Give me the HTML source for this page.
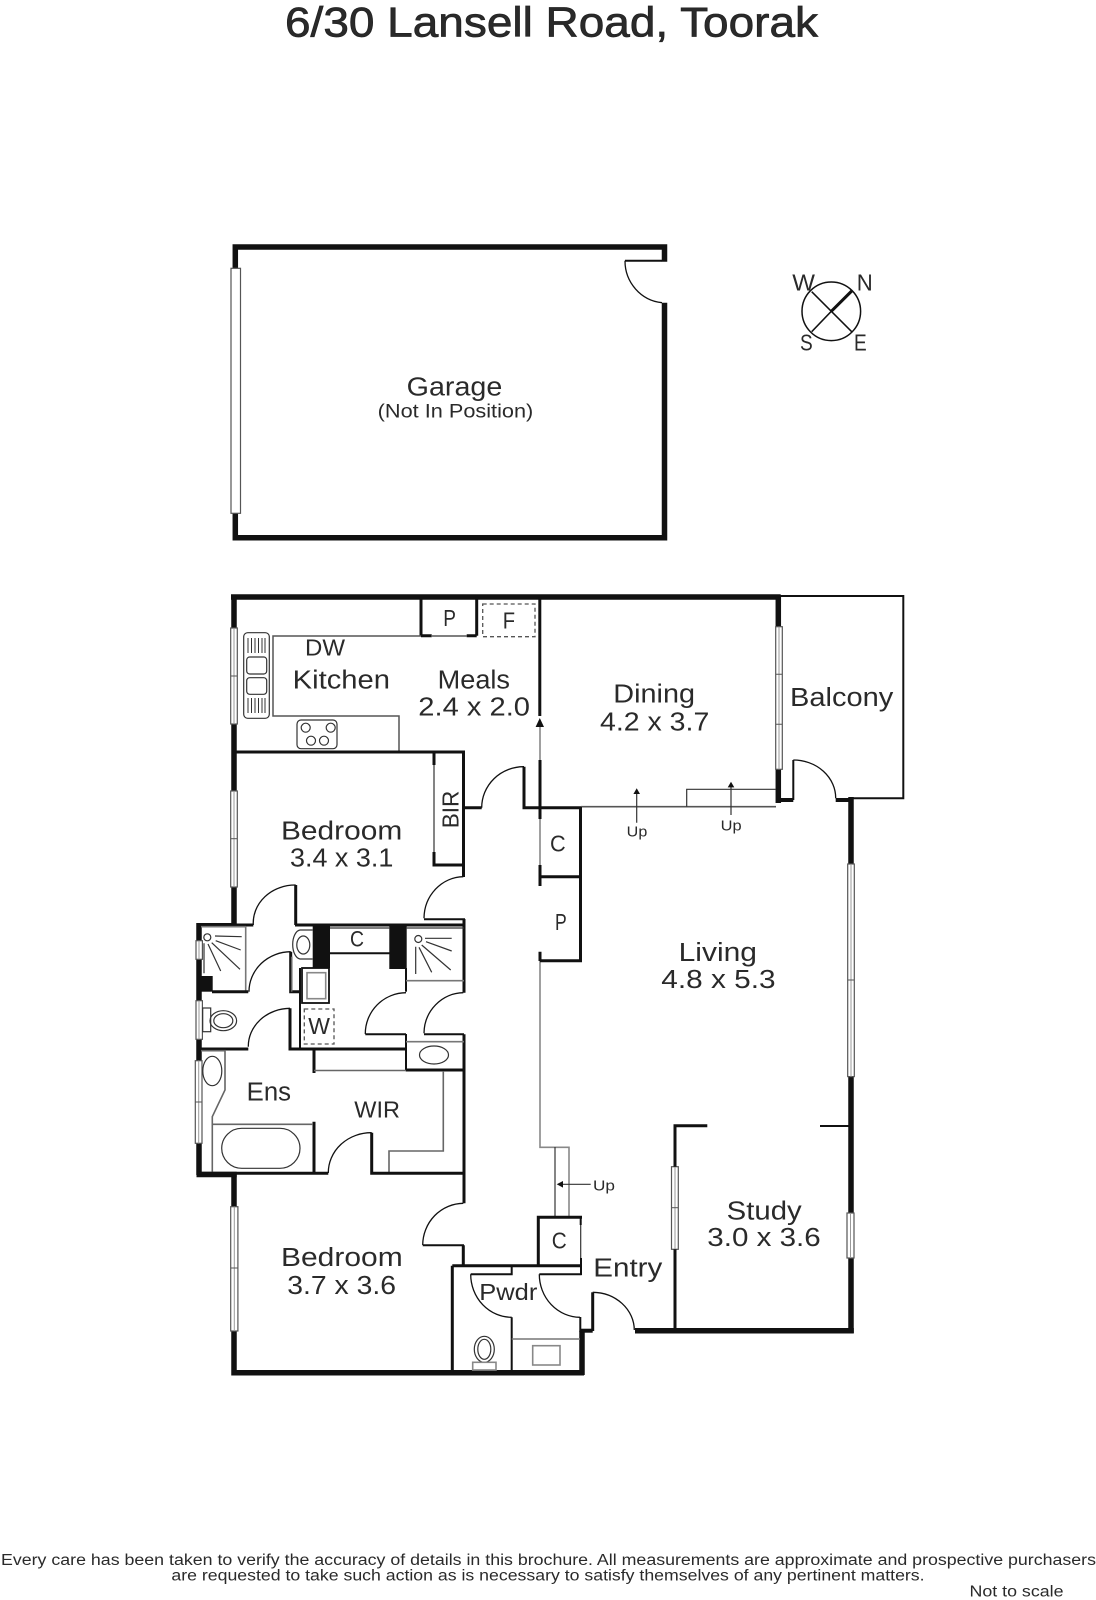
<!DOCTYPE html>
<html><head><meta charset="utf-8"><title>6/30 Lansell Road, Toorak</title>
<style>
html,body{margin:0;padding:0;background:#fff}
svg{display:block}
text{font-family:"Liberation Sans",sans-serif;fill:#2a2a2a;font-size:25.5px}
.a{fill:none;stroke:#111;stroke-linecap:butt;stroke-linejoin:miter}
.w5{stroke-width:5.5}.w4{stroke-width:4}.w3{stroke-width:3}.w2{stroke-width:2}
.d{stroke-width:1.3}
.t{fill:none;stroke:#555;stroke-width:1.5}
.g{fill:none;stroke:#888;stroke-width:1.6}
.k{fill:none;stroke:#333;stroke-width:1.2}
.dash{fill:none;stroke:#555;stroke-width:1.3;stroke-dasharray:4 3}
.win{fill:#fff;stroke:#555;stroke-width:1.2}
.wl{stroke:#999;stroke-width:1;fill:none}
.div{stroke:#555;stroke-width:1;fill:none}
</style></head><body>
<svg xmlns="http://www.w3.org/2000/svg" width="1096" height="1600" viewBox="0 0 1096 1600">
<rect width="1096" height="1600" fill="#fff"/>

<!-- Title -->
<text x="285" y="36.5" style="font-size:42px;stroke:#222;stroke-width:.7" textLength="533" lengthAdjust="spacingAndGlyphs">6/30 Lansell Road, Toorak</text>

<!-- Garage -->
<path class="a w5" d="M664.5 261.7V247H235.3V268.3M235.3 513.3V537.8H664.5V302.7"/>
<path class="a w2" d="M625 260.7H662"/>
<path class="a d" d="M625 260.7A41 42 0 0 0 662 302.7"/>
<rect class="win" x="231" y="268.3" width="9.5" height="245"/>
<text x="406.7" y="395.7" textLength="95.6" lengthAdjust="spacingAndGlyphs">Garage</text>
<text x="377.7" y="417.7" style="font-size:19.5px" textLength="155.6" lengthAdjust="spacingAndGlyphs">(Not In Position)</text>

<!-- Compass -->
<circle class="k" style="stroke:#111;stroke-width:1.5" cx="831.3" cy="311.3" r="29.3"/>
<path class="a" style="stroke-width:1.5" d="M811.7 291.7L851.7 331.7M811.7 331.7L831.3 311.3"/>
<path class="a w3" d="M831.3 311.3L851.7 291"/>
<text x="792.3" y="290.7" style="font-size:23px" textLength="22.7" lengthAdjust="spacingAndGlyphs">W</text>
<text x="856.7" y="290.7" style="font-size:23px" textLength="16" lengthAdjust="spacingAndGlyphs">N</text>
<text x="800" y="350.7" style="font-size:23px" textLength="12.7" lengthAdjust="spacingAndGlyphs">S</text>
<text x="854" y="350.7" style="font-size:23px" textLength="12.7" lengthAdjust="spacingAndGlyphs">E</text>

<!-- Outer thick walls -->
<path class="a w5" d="M231 597H780.7"/>
<path class="a w5" d="M234 597V628M234 724V791M234 887V925"/>
<path class="a w5" d="M778.3 597V626.7M778.3 769.3V803"/>
<path class="a w4" d="M776 800H793.3M835.7 800H853.3"/>
<path class="a w5" d="M851 797V864M851 1076.6V1213M851 1258V1333"/>
<path class="a w5" d="M635 1330.7H853.8"/>
<path class="a w5" d="M582 1330.7V1375"/>
<path class="a w4" d="M580 1330.7H592.7"/>
<path class="a w5" d="M234 1173V1206.7M234 1331V1372.7H584"/>
<path class="a w5" d="M199 923V940.7M199 959.3V1000.7M199 1039.3V1060.7M199 1143.3V1175"/>
<path class="a w5" d="M196.5 1174.5H236.7"/>
<path class="a w4" d="M197 925H232"/>
<rect x="201" y="976" width="11.7" height="15.7" fill="#111"/>
<rect x="312.7" y="925" width="17.3" height="43" fill="#111"/>
<rect x="389.3" y="925" width="17.4" height="44" fill="#111"/>

<!-- Balcony -->
<path class="a w2" d="M779 596H903.3V798.3H853"/>
<path class="a w2" d="M793.3 800V760"/>
<path class="a d" d="M793.3 760A42.4 38 0 0 1 835.7 798.3"/>

<!-- Windows -->
<g>
<rect class="win" x="230.7" y="628" width="6.6" height="96"/><path class="wl" d="M234 628V724"/><path class="div" d="M230.7 676H237.3"/>
<rect class="win" x="230.7" y="791" width="6.6" height="96"/><path class="wl" d="M234 791V887"/><path class="div" d="M230.7 838.7H237.3"/>
<rect class="win" x="775.7" y="626.7" width="6.6" height="142.6"/><path class="wl" d="M779 626.7V769.3"/><path class="div" d="M775.7 674.3H782.3M775.7 724.3H782.3"/>
<rect class="win" x="847.7" y="864" width="6.6" height="212.6"/><path class="wl" d="M851 864V1076.6"/><path class="div" d="M847.7 980H854.3"/>
<rect class="win" x="847" y="1213" width="7" height="45"/><path class="wl" d="M850.5 1213V1258"/>
<rect class="win" x="671.5" y="1166.7" width="6.8" height="82.6"/><path class="wl" d="M675 1166.7V1249.3"/><path class="div" d="M671.5 1207.7H678.3"/>
<rect class="win" x="230.7" y="1206.7" width="7.2" height="124.3"/><path class="wl" d="M234.3 1206.7V1331"/><path class="div" d="M230.7 1268H237.9"/>
<rect class="win" x="196" y="940.7" width="6.4" height="18.6"/><path class="wl" d="M199 940.7V959.3"/>
<rect class="win" x="196" y="1000.7" width="6.4" height="38.6"/><path class="wl" d="M199 1000.7V1039.3"/>
<rect class="win" x="195.3" y="1060.7" width="6.7" height="82.6"/><path class="wl" d="M198.7 1060.7V1143.3"/><path class="div" d="M195.3 1102H202"/>
</g>

<!-- Kitchen / Meals -->
<path class="a w3" d="M421 597V635.7M476.7 597V635.7"/>
<path class="a w3" d="M421 635.7H431.7M466.7 635.7H476.7"/>
<path class="t" d="M431 636H467"/>
<path class="t" d="M421 636H273V716H399V752"/>
<rect class="dash" x="482.7" y="604" width="52.3" height="32.7"/>
<rect class="k" x="243.7" y="632.7" width="25.6" height="85.6" rx="4"/>
<rect class="k" x="246.7" y="657" width="20" height="17" rx="3"/>
<rect class="k" x="246.7" y="677.7" width="20" height="16.6" rx="3"/>
<path class="k" style="stroke-width:1" d="M248 638V653M251.500 638V653M255 638V653M258.500 638V653M262 638V653M265 638V653M248 698V713M251.500 698V713M255 698V713M258.500 698V713M262 698V713M265 698V713"/>
<rect class="k" x="297" y="720" width="40" height="28.7" rx="4"/>
<circle class="k" cx="305.700" cy="727.700" r="4.500"/><circle class="k" cx="330.700" cy="727.700" r="4.500"/><circle class="k" cx="311" cy="740.700" r="4.500"/><circle class="k" cx="324" cy="740.700" r="4.500"/>
<path class="a w3" d="M539.800 597V716"/>
<path d="M539.800 718L544 727H535.600Z" fill="#111"/>
<path class="g" d="M540 727V760M540 819V865M540 961V1147.300H569V1217"/>
<path class="a w3" d="M540 760V819M540 865V886M540 951.700V961"/>

<!-- Bedroom 1 -->
<path class="a w3" d="M234 752H463.500V877"/>
<path class="a w3" d="M434 752V765M434 852V866.500"/>
<path class="k" d="M434 765V852"/>
<path class="a w3" d="M434 865H463.500"/>
<path class="a w3" d="M463.500 807.700H481.700M524 766.700V807.700H581.500"/>
<path class="a d" d="M481.700 807.700A42 41 0 0 1 524 766.700"/>
<path class="g" style="stroke:#555" d="M581 806.700H776"/>
<path class="a d" d="M463.300 876.700A40 42 0 0 0 424 918.300"/>
<path class="a w2" d="M424 919.300H465M465 919.300"/>
<path class="a w3" d="M295.700 885V925M295 925H464"/>
<path class="a w3" d="M464 919V992.700M464 1034.300V1203.300M463.300 1245.300V1267"/>
<path class="a d" d="M295.700 885A42 38 0 0 0 253.300 925"/>
<path class="a w3" d="M253.300 925H232"/>

<!-- C closets -->
<path class="a w3" d="M580.500 807V961M540 876.700H581M540 960.700H582"/>

<!-- Ensuite shower -->
<path class="g" style="stroke:#777" d="M245.700 926.700V991M201 926.700H246"/>
<circle class="k" cx="207.300" cy="937.300" r="3.500"/>
<path class="k" d="M215 936L241.700 936.700M215.700 940.700L240.700 950M211.700 942.700L240 969.300M208 944L220.700 971M204 943.300V973.300"/>
<path class="a w3" d="M212 991.700H248.300M290.700 951.700V991.700H300"/>
<path class="a d" d="M249 991.700A42 40 0 0 1 290.700 951.700"/>
<!-- wc1 -->
<rect class="k" x="202.700" y="1008" width="8" height="23.700"/>
<ellipse class="k" cx="223.300" cy="1020.700" rx="13.300" ry="10"/>
<ellipse class="k" cx="223.300" cy="1020.700" rx="9.500" ry="7"/>
<path class="a w3" d="M201 1049H248.300M290 1008.300V1049H406.700"/>
<path class="a d" d="M248.300 1046.700A42 38 0 0 1 290 1008.300"/>
<!-- wc2 -->
<path class="k" d="M312.700 930H300A8 14.500 0 0 0 292.700 944.500A8 14.500 0 0 0 300 959H312.700"/>
<ellipse class="k" cx="303.300" cy="945" rx="6.500" ry="9"/>
<path class="g" style="stroke:#666" d="M291.700 956.700V991.700"/>
<path class="a w2" d="M300 968V1049"/>
<rect class="a w2" x="302" y="968" width="27" height="35" style="stroke-width:1.800"/>
<rect class="g" x="307" y="972.700" width="18.700" height="26"/>
<rect class="dash" x="304.300" y="1009" width="29.700" height="35"/>
<!-- C laundry -->
<path class="a w2" d="M330 953.300H390"/>
<path class="k" d="M330 928H390"/>
<path class="a w2" d="M406 968V991.700"/>
<path class="a w2" d="M406 1034.300H365.300M406 1034V1070"/>
<path class="a d" d="M406 992.700A41 41 0 0 0 365.300 1034"/>
<!-- Shower 2 -->
<path class="k" d="M406 928H464"/>
<path class="g" style="stroke:#777" d="M406 980.700H464M406 1041.700H464"/>
<circle class="k" cx="418.300" cy="939" r="3.500"/>
<path class="k" d="M425 938.300H451.700M426 941.700L451.700 951M421.700 945L450.700 970M419 947.300L431.700 972.300M415.700 946.700V974"/>
<path class="a d" d="M463.300 992.700A40 41 0 0 0 424 1033.300"/>
<path class="a w2" d="M424 1034.300H464"/>
<path class="a w3" d="M405.700 1070H464"/>
<ellipse class="k" cx="434" cy="1055" rx="14.500" ry="9"/>
<!-- WIR -->
<path class="a w3" d="M314 1050V1073M314 1121.700V1173"/>
<path class="g" style="stroke:#666" d="M314 1070.500H406M443.300 1071V1151H389V1173"/>
<!-- Ens -->
<path class="g" style="stroke:#666" d="M201 1050.700H225V1090L212.300 1116.700V1173M212.300 1124.300H313"/>
<ellipse class="k" cx="212.300" cy="1071" rx="9.500" ry="14.700"/>
<rect class="k" x="221.700" y="1128.300" width="78.300" height="40" rx="20"/>
<path class="a w3" d="M198 1173.300H328.300M371.700 1132.700V1173.300H464"/>
<path class="a d" d="M328.300 1173A43 40 0 0 1 371.700 1132.700"/>
<!-- Bedroom 2 door -->
<path class="a d" d="M463.300 1203.300A41 42 0 0 0 422.700 1245"/>
<path class="a w2" d="M422.700 1245.300H464"/>
<!-- Stairs -->
<path class="k" d="M555 1147V1217"/>
<path class="k" d="M563 1184.300H590.700"/><path d="M556.700 1184.300L563 1181V1187.600Z" fill="#111"/>
<!-- Powder/C -->
<path class="a w3" d="M452.300 1265.700H582M452.300 1265.700V1372"/>
<path class="a w3" d="M538.300 1265.700V1217.300H582"/>
<path class="k" d="M580.700 1225V1258"/>
<path class="a w2" d="M580.700 1217.300V1225M581 1258V1275"/>
<path class="a w2" d="M470.700 1274.300H511.700V1266M539.300 1274.300H581.700"/>
<path class="a d" d="M470.700 1274.300A41 43 0 0 0 511.700 1317.300M539.300 1274.300A41 43 0 0 0 580 1317.300"/>
<path class="a w2" d="M511.700 1317.300V1372M580.300 1317V1332"/>
<path class="g" style="stroke:#777" d="M511.700 1339H580"/>
<rect class="g" x="532.700" y="1345.700" width="27.300" height="19.300"/>
<ellipse class="k" cx="484.300" cy="1349.300" rx="10" ry="13"/><ellipse class="k" cx="484.300" cy="1349.300" rx="6.500" ry="10"/>
<rect class="g" x="472.700" y="1362.300" width="23.300" height="7.700"/>
<!-- Dining steps -->
<path class="k" d="M686.700 806.700V789.300H776"/>
<path class="k" d="M636.700 793V822.700M731 787V815"/>
<path d="M636.700 788.300L640 794H633.400ZM731 781.700L734.300 787.400H727.700Z" fill="#111"/>
<!-- Study -->
<path class="a w3" d="M707.300 1125.700H675V1166.700M675 1249.300V1330"/>
<path class="a w2" d="M820 1126H851"/>
<path class="a w3" d="M592.700 1292.300V1331"/>
<path class="a d" d="M592.700 1292.300A42 38 0 0 1 634.300 1330"/>

<!-- Labels -->
<text x="305" y="655.700" style="font-size:23px" textLength="40" lengthAdjust="spacingAndGlyphs">DW</text>
<text x="292.700" y="688.300" textLength="97.300" lengthAdjust="spacingAndGlyphs">Kitchen</text>
<text x="437.700" y="688.300" textLength="72.300" lengthAdjust="spacingAndGlyphs">Meals</text>
<text x="418.300" y="715.700" textLength="111.700" lengthAdjust="spacingAndGlyphs">2.4 x 2.0</text>
<text x="443.300" y="626" style="font-size:23px" textLength="12.700" lengthAdjust="spacingAndGlyphs">P</text>
<text x="502.700" y="628.300" style="font-size:23px" textLength="12.300" lengthAdjust="spacingAndGlyphs">F</text>
<text x="281" y="839.300" textLength="121.300" lengthAdjust="spacingAndGlyphs">Bedroom</text>
<text x="290" y="866.700" textLength="103.300" lengthAdjust="spacingAndGlyphs">3.4 x 3.1</text>
<text transform="translate(458.300 828.300) rotate(-90)" style="font-size:23px" textLength="37.600" lengthAdjust="spacingAndGlyphs">BIR</text>
<text x="613.300" y="702.300" textLength="81.700" lengthAdjust="spacingAndGlyphs">Dining</text>
<text x="600" y="730.700" textLength="109.300" lengthAdjust="spacingAndGlyphs">4.2 x 3.7</text>
<text x="790" y="706" textLength="103.300" lengthAdjust="spacingAndGlyphs">Balcony</text>
<text x="626.700" y="836.700" style="font-size:15px" textLength="20.600" lengthAdjust="spacingAndGlyphs">Up</text>
<text x="720.700" y="830.700" style="font-size:15px" textLength="21" lengthAdjust="spacingAndGlyphs">Up</text>
<text x="550" y="851.700" style="font-size:23px" textLength="15.700" lengthAdjust="spacingAndGlyphs">C</text>
<text x="555" y="930" style="font-size:23px" textLength="11.700" lengthAdjust="spacingAndGlyphs">P</text>
<text x="678.600" y="961" textLength="78.400" lengthAdjust="spacingAndGlyphs">Living</text>
<text x="661.300" y="987.800" textLength="114.300" lengthAdjust="spacingAndGlyphs">4.8 x 5.3</text>
<text x="350" y="946.700" style="font-size:22px" textLength="14" lengthAdjust="spacingAndGlyphs">C</text>
<text x="308.300" y="1034" style="font-size:23px" textLength="21.700" lengthAdjust="spacingAndGlyphs">W</text>
<text x="246.700" y="1100.700" textLength="44.300" lengthAdjust="spacingAndGlyphs">Ens</text>
<text x="354.300" y="1117.700" style="font-size:23px" textLength="45.700" lengthAdjust="spacingAndGlyphs">WIR</text>
<text x="593.300" y="1184.300" style="display:none"> </text>
<text x="593" y="1190.700" style="font-size:15px" textLength="22" lengthAdjust="spacingAndGlyphs">Up</text>
<text x="726.700" y="1219.300" textLength="75" lengthAdjust="spacingAndGlyphs">Study</text>
<text x="707.300" y="1246" textLength="113.400" lengthAdjust="spacingAndGlyphs">3.0 x 3.6</text>
<text x="551.700" y="1248.300" style="font-size:23px" textLength="15" lengthAdjust="spacingAndGlyphs">C</text>
<text x="593.300" y="1276.700" textLength="69" lengthAdjust="spacingAndGlyphs">Entry</text>
<text x="479.300" y="1300" style="font-size:23px" textLength="58" lengthAdjust="spacingAndGlyphs">Pwdr</text>
<text x="281" y="1266" textLength="121.700" lengthAdjust="spacingAndGlyphs">Bedroom</text>
<text x="287.300" y="1294" textLength="108.700" lengthAdjust="spacingAndGlyphs">3.7 x 3.6</text>

<!-- Footer -->
<text x="1" y="1565" style="font-size:15.500px" textLength="1095" lengthAdjust="spacingAndGlyphs">Every care has been taken to verify the accuracy of details in this brochure.  All measurements are approximate and prospective purchasers</text>
<text x="171.400" y="1580.500" style="font-size:15.500px" textLength="753.200" lengthAdjust="spacingAndGlyphs">are requested to take such action as is necessary to satisfy themselves of any pertinent matters.</text>
<text x="969.500" y="1596.500" style="font-size:15.500px" textLength="94" lengthAdjust="spacingAndGlyphs">Not to scale</text>
</svg>
</body></html>
